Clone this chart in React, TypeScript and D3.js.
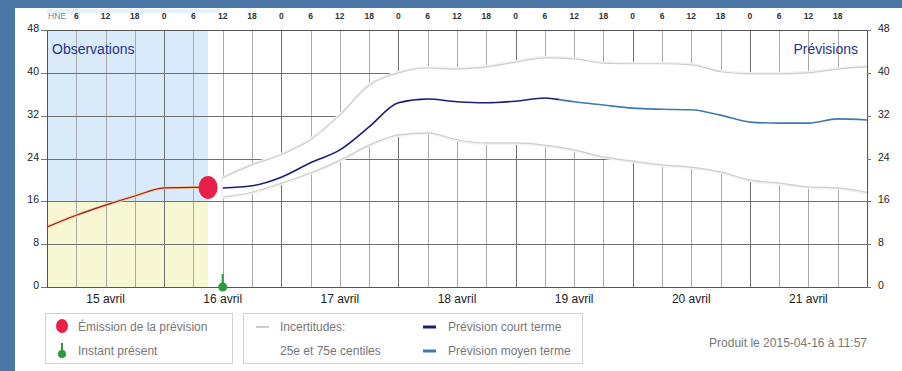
import React from "react";
import * as d3 from "d3";

// hours counted from 15 avril 2015, 00h (HNE)
const obsHours = [0, 6, 12, 18, 24, 30, 33];
const obsValues = [11.2, 13.4, 15.3, 17.0, 18.5, 18.6, 18.6];

const bandHours = [36, 42, 48, 54, 60, 66, 72, 78, 84, 90, 96, 102, 108, 114, 120, 126, 132, 138, 144, 150, 156, 162, 168];
const bandUpper = [20.4, 22.8, 24.7, 27.5, 32.1, 37.7, 40.0, 40.9, 40.7, 41.1, 42.0, 42.8, 42.6, 41.8, 41.7, 41.7, 41.5, 40.2, 39.8, 39.8, 40.0, 40.7, 41.1];
const bandLower = [16.8, 17.7, 19.4, 21.3, 23.7, 26.5, 28.4, 28.8, 27.5, 26.9, 26.9, 26.5, 25.6, 24.3, 23.5, 22.8, 22.4, 21.5, 20.0, 19.4, 18.7, 18.5, 17.7];

const shortHours = [36, 42, 48, 54, 60, 66, 72, 78, 84, 90, 96, 102, 105];
const shortValues = [18.5, 18.9, 20.5, 23.2, 25.6, 29.9, 34.4, 35.1, 34.6, 34.4, 34.7, 35.3, 35.0];

const mediumHours = [105, 108, 114, 120, 126, 132, 138, 144, 150, 156, 162, 168];
const mediumValues = [35.0, 34.6, 34.0, 33.4, 33.2, 33.1, 32.1, 30.8, 30.6, 30.6, 31.4, 31.2];

const emissionHour = 33;
const nowHour = 36;
const yTicks = [0, 8, 16, 24, 32, 40, 48];
const dayLabels = ["15 avril", "16 avril", "17 avril", "18 avril", "19 avril", "20 avril", "21 avril"];

const START = new Date(2015, 3, 15, 0);
const END = new Date(2015, 3, 22, 0);
const at = (h: number) => d3.timeHour.offset(START, h);

const FONT = "'Liberation Sans', Arial, sans-serif";

const App = () => {
  const width = 902;
  const height = 371;
  const margin = { top: 30, right: 35, bottom: 84, left: 47 };

  const x = d3.scaleTime().domain([START, END]).range([margin.left, width - margin.right]);
  const y = d3.scaleLinear().domain([0, 48]).range([height - margin.bottom, margin.top]);

  const x0 = x.range()[0];
  const x1 = x.range()[1];
  const yTop = y(48);
  const yBot = y(0);
  const px = (v: number) => Math.round(v) + 0.5;

  const sixHours = x.ticks(d3.timeHour.every(6));
  const days = d3.timeDay.range(START, END);

  const line = d3
    .line<[number, number]>()
    .x((d) => x(at(d[0])))
    .y((d) => y(d[1]))
    .curve(d3.curveMonotoneX);

  const band = d3
    .area<number>()
    .x((_, i) => x(at(bandHours[i])))
    .y0((_, i) => y(bandLower[i]))
    .y1((_, i) => y(bandUpper[i]))
    .curve(d3.curveMonotoneX);

  const zip = (hs: number[], vs: number[]) => hs.map((h, i) => [h, vs[i]] as [number, number]);

  const obsX = x(at(emissionHour));
  const nowX = x(at(nowHour));

  return (
    <svg
      width={width}
      height={height}
      style={{ position: "absolute", left: 0, top: 0, display: "block" }}
      fontFamily={FONT}
    >
      <rect x={0} y={0} width={width} height={height} fill="#4a77a6" />
      <rect x={15} y={8} width={width - 15} height={height - 8} fill="#ffffff" />

      {/* observation zone */}
      <rect x={x0} y={9} width={obsX + 12 - x0} height={4} fill="#e6f1fb" />
      <rect x={x0} y={yTop} width={obsX - x0} height={y(16) - yTop} fill="#d9eafa" />
      <rect x={x0} y={y(16)} width={obsX - x0} height={yBot - y(16)} fill="#f7f7d4" />

      {/* grid */}
      {sixHours.map((d, i) => (
        <line
          key={"v" + i}
          x1={px(x(d))}
          x2={px(x(d))}
          y1={yTop}
          y2={yBot}
          stroke={d.getHours() === 0 ? "#6f6f6f" : "#a9a9a9"}
          strokeWidth={1}
        />
      ))}
      {yTicks.map((t) => (
        <line key={"h" + t} x1={x0} x2={x1} y1={px(y(t))} y2={px(y(t))} stroke="#707070" />
      ))}

      {/* uncertainty band */}
      <path d={band(bandHours) || ""} fill="#ffffff" stroke="#f2f2f2" strokeWidth={4} />
      <path d={band(bandHours) || ""} fill="#ffffff" />
      <path d={line(zip(bandHours, bandUpper)) || ""} fill="none" stroke="#cdcdcd" strokeWidth={1.2} />
      <path d={line(zip(bandHours, bandLower)) || ""} fill="none" stroke="#cdcdcd" strokeWidth={1.2} />

      {/* forecasts */}
      <path d={line(zip(shortHours, shortValues)) || ""} fill="none" stroke="#1c1c7c" strokeWidth={1.6} />
      <path d={line(zip(mediumHours, mediumValues)) || ""} fill="none" stroke="#3f79ad" strokeWidth={1.6} />

      {/* observations */}
      <path d={line(zip(obsHours, obsValues)) || ""} fill="none" stroke="#f3cfa8" strokeWidth={3} />
      <path d={line(zip(obsHours, obsValues)) || ""} fill="none" stroke="#9e1a1a" strokeWidth={1.2} />
      <ellipse cx={obsX} cy={y(obsValues[obsValues.length - 1])} rx={9.5} ry={11.5} fill="#ea1f48" />

      {/* axes frame */}
      <line x1={px(x0)} x2={px(x0)} y1={yTop} y2={yBot} stroke="#555" />
      <line x1={px(x1)} x2={px(x1)} y1={yTop} y2={yBot} stroke="#555" />
      <line x1={x0} x2={x1} y1={px(yTop)} y2={px(yTop)} stroke="#555" />
      <line x1={x0} x2={x1} y1={px(yBot)} y2={px(yBot)} stroke="#555" />

      {yTicks.map((t) => (
        <g key={"yl" + t} fontSize={10.5} fill="#222">
          <line x1={x0 - 6} x2={x0} y1={px(y(t))} y2={px(y(t))} stroke="#777" />
          <line x1={x1} x2={x1 + 4} y1={px(y(t))} y2={px(y(t))} stroke="#777" />
          <text x={x0 - 8} y={y(t) + 2} textAnchor="end">{t}</text>
          <text x={x1 + 11} y={y(t) + 2}>{t}</text>
        </g>
      ))}

      {/* top hour labels */}
      {sixHours
        .filter((d) => d < END)
        .map((d, i) =>
          i === 0 ? (
            <text key={"t" + i} x={x0 + 1} y={19} fontSize={8.5} fill="#6c86a8">HNE</text>
          ) : (
            <text key={"t" + i} x={x(d)} y={19} fontSize={8.5} fontWeight="bold" fill="#333" textAnchor="middle">
              {d.getHours()}
            </text>
          )
        )}

      {/* day labels */}
      {days.map((d, i) => (
        <text key={"d" + i} x={x(d3.timeHour.offset(d, 12))} y={303} fontSize={12} fill="#222" textAnchor="middle">
          {dayLabels[i]}
        </text>
      ))}

      {/* now marker */}
      <line x1={nowX} x2={nowX} y1={yBot - 13} y2={yBot} stroke="#2c9a3e" strokeWidth={2} />
      <circle cx={nowX} cy={yBot} r={4.5} fill="#2c9a3e" />

      <text x={x0 + 5} y={54} fontSize={14} fill="#27338a">Observations</text>
      <text x={x1 - 9} y={54} fontSize={14} fill="#27338a" textAnchor="end">Prévisions</text>

      {/* legend */}
      <g fontSize={12} fill="#777">
        <rect x={45.5} y={313.5} width={187} height={50} fill="none" stroke="#d2d2d2" />
        <ellipse cx={62} cy={326} rx={6} ry={7} fill="#ea1f48" />
        <text x={78} y={331}>Émission de la prévision</text>
        <line x1={62} x2={62} y1={343} y2={353} stroke="#2c9a3e" strokeWidth={2} />
        <circle cx={62} cy={354} r={4} fill="#2c9a3e" />
        <text x={78} y={355}>Instant présent</text>

        <rect x={243.5} y={313.5} width={339} height={50} fill="none" stroke="#d2d2d2" />
        <line x1={256} x2={269} y1={327} y2={327} stroke="#cccccc" strokeWidth={2} />
        <text x={280} y={331}>Incertitudes:</text>
        <text x={280} y={355}>25e et 75e centiles</text>
        <line x1={423} x2={436} y1={327} y2={327} stroke="#1c1c7c" strokeWidth={3} />
        <text x={448} y={331}>Prévision court terme</text>
        <line x1={423} x2={436} y1={351} y2={351} stroke="#3f79ad" strokeWidth={3} />
        <text x={448} y={355}>Prévision moyen terme</text>

        <text x={x1} y={347} textAnchor="end">Produit le 2015-04-16 à 11:57</text>
      </g>
    </svg>
  );
};

export default App;
